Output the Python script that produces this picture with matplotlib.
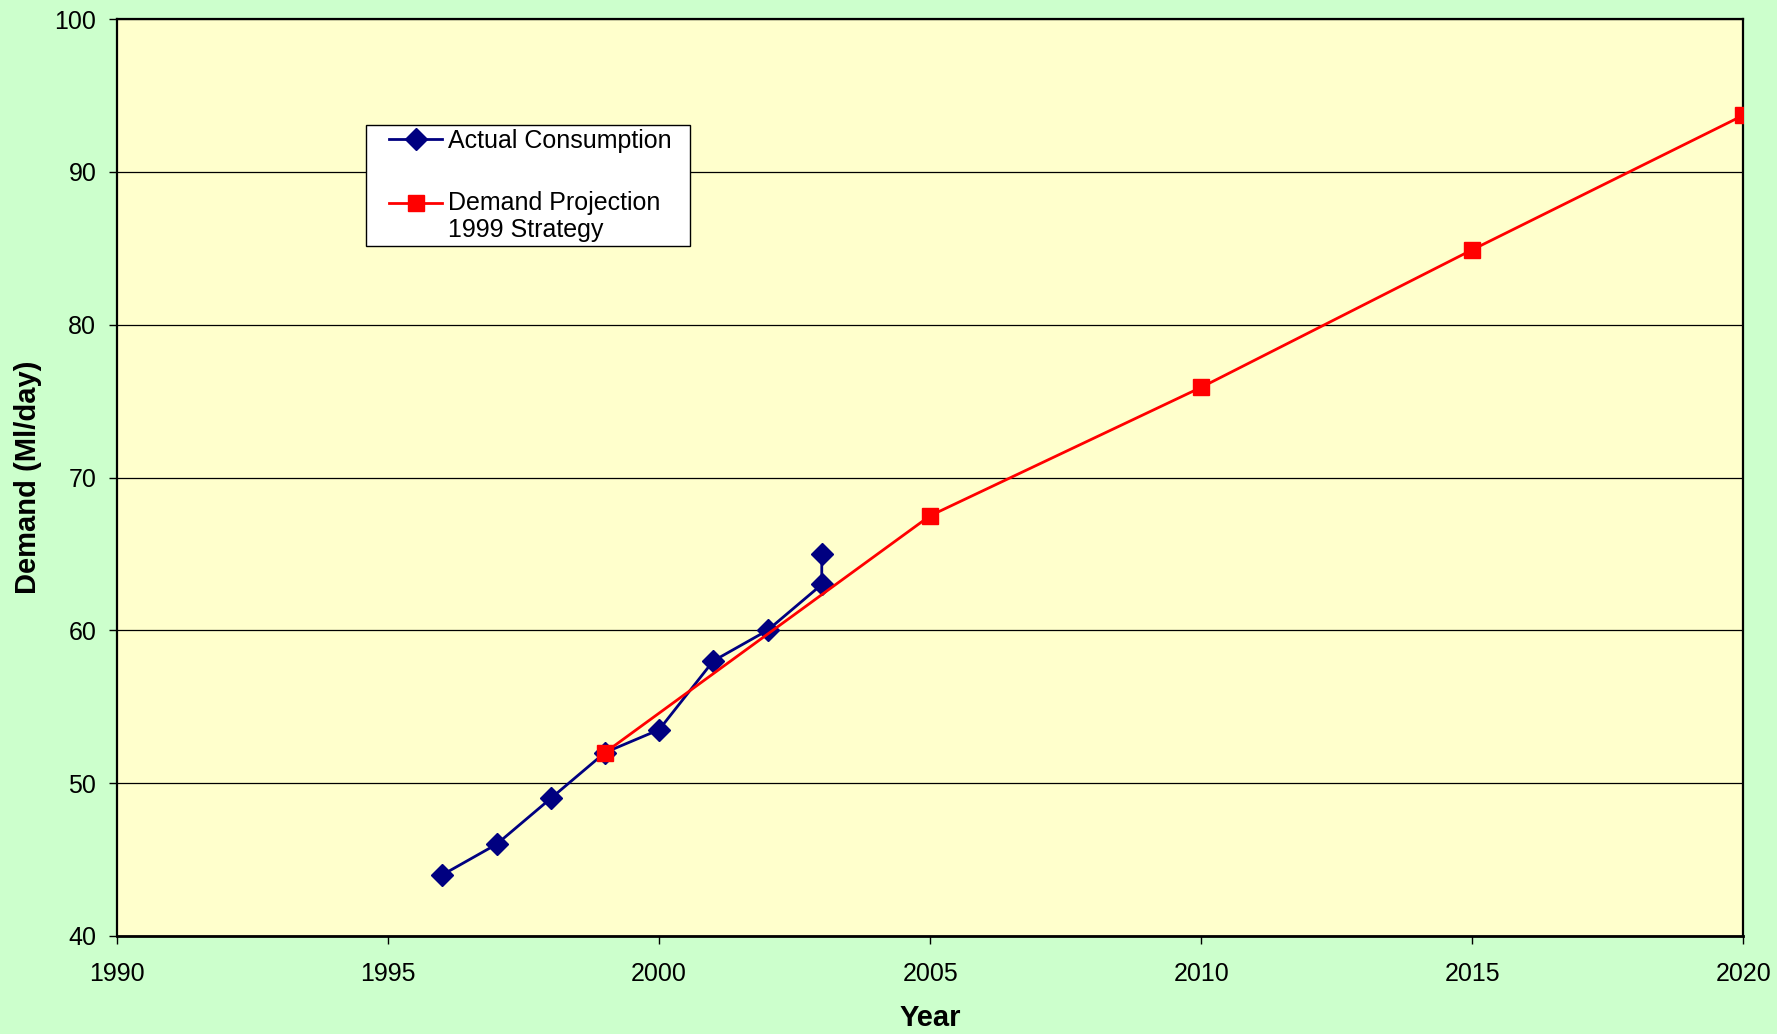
import numpy as np
import matplotlib.pyplot as plt
from matplotlib.legend_handler import HandlerLine2D

plt.rcParams['font.family'] = ['Liberation Sans', 'DejaVu Sans']

# data
actual_years = [1996, 1997, 1998, 1999, 2000, 2001, 2002, 2003, 2003]
actual_demand = [44, 46, 49, 52, 53.5, 58, 60, 63, 65]

proj_years = [1999, 2005, 2010, 2015, 2020]
proj_demand = [52, 67.5, 75.9, 84.9, 93.7]


class ExcelHandler(HandlerLine2D):
    # indent the legend line and put it level with the first text line
    def __init__(self, indent=14, lift=0, **kw):
        super().__init__(**kw)
        self.indent = indent
        self.lift = lift

    def create_artists(self, legend, orig_handle, xdescent, ydescent,
                       width, height, fontsize, trans):
        arts = super().create_artists(legend, orig_handle, xdescent - self.indent,
                                      ydescent, width - self.indent, height,
                                      fontsize, trans)
        for a in arts:
            a.set_ydata(np.asarray(a.get_ydata()) + self.lift)
        return arts


fig = plt.figure(figsize=(17.77, 10.34), dpi=100, facecolor='#CCFFCC')
ax = fig.add_axes([0.0659, 0.0948, 0.9151, 0.8868])
ax.set_facecolor('#FFFFCC')

l1, = ax.plot(actual_years, actual_demand, color='#000080', lw=2, marker='D',
              markersize=11, label='Actual Consumption  ', zorder=3)
l2, = ax.plot(proj_years, proj_demand, color='#FF0000', lw=2, marker='s',
              markersize=12, label='Demand Projection\n1999 Strategy', zorder=4)

ax.set_xlim(1990, 2020)
ax.set_ylim(40, 100)
ax.set_xticks(range(1990, 2021, 5))
ax.set_yticks(range(40, 101, 10))
ax.yaxis.grid(True, color='black', lw=0.9)
ax.set_axisbelow(True)
for s in ax.spines.values():
    s.set_linewidth(1.6)
ax.spines['bottom'].set_linewidth(2)
ax.tick_params(labelsize=18, direction='out', length=6, width=1)
ax.tick_params(axis='x', pad=13)
ax.tick_params(axis='y', pad=9)
ax.set_xlabel('Year', fontsize=21, fontweight='bold', labelpad=13)
ax.set_ylabel('Demand (Ml/day)', fontsize=21, fontweight='bold', labelpad=9)

leg = ax.legend(loc='upper left', bbox_to_anchor=(0.153, 0.884), fontsize=18,
                frameon=True, fancybox=False, framealpha=1, edgecolor='black',
                handlelength=2.9, handletextpad=0.25, labelspacing=1.5,
                borderpad=0.15, borderaxespad=0,
                handler_map={l1: ExcelHandler(indent=14),
                             l2: ExcelHandler(indent=14, lift=10.5)})
leg.get_frame().set_linewidth(1)

fig.savefig('out.png', dpi=100, facecolor=fig.get_facecolor())
